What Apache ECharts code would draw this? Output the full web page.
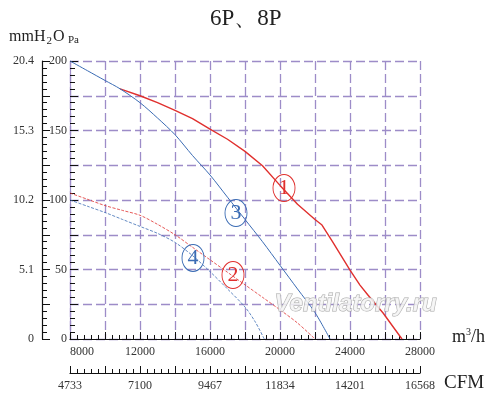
<!DOCTYPE html>
<html>
<head>
<meta charset="utf-8">
<script src="https://cdn.jsdelivr.net/npm/echarts@6/dist/echarts.min.js"></script>
<style>html,body{margin:0;padding:0;background:#fff}#c{width:500px;height:411px}</style>
</head>
<body>
<div id="c"></div>
<script>
// ---- data ----
const title = '6P、8P';
const curve1 = [[10860,180],[12000,175],[13000,170],[14000,164.5],[15000,158.5],[16000,151],[17000,143.7],[18000,135],[19000,124.6],[20000,110.5],[21000,97],[22000,86],[22400,82],[23000,70],[24000,49.6],[24570,38.8],[25000,32],[25890,18.7],[26450,9],[26970,0]];
const curve2 = [[8000,105],[9000,100.5],[10000,96],[11000,92.5],[12000,89],[13000,82.5],[14000,75],[15000,66],[16000,57],[17000,48],[18000,39],[19000,30],[20000,21],[21000,11.5],[22000,0]];
const curve3 = [[8000,200],[9000,193],[10000,186],[10860,180],[12000,170],[13000,159],[14000,147],[15000,132],[16000,118],[17000,102],[18000,86],[19000,70],[20000,53],[21000,36],[22000,19],[22860,0]];
const curve4 = [[8000,100],[9000,95.5],[10000,91],[11000,86],[12000,81],[13000,76],[14000,69.5],[15000,60],[16000,48.5],[17000,36],[18000,23],[18600,12],[19100,0]];
const curveNames = ['1','2','3','4'];
const labelCoords = [[20229,108.6],[17314,46],[17486,90.6],[15029,58.3]];
const xTickValues = [8000,12000,16000,20000,24000,28000];
const xTickLabels = ['8000','12000','16000','20000','24000','28000'];
const cfmTickLabels = ['4733','7100','9467','11834','14201','16568'];
const paTickValues = [0,50,100,150,200];
const paTickLabels = ['0','50','100','150','200'];
const mmTickLabels = ['0','5.1','10.2','15.3','20.4'];

const RED = '#e0302e', BLUE = '#3b6cb4', GRID = '#9d8cc8';
const SERIF = '"Liberation Serif","DejaVu Serif",serif';
const ellipse = 'path://M50,0 A50,50 0 1,1 49.99,0 Z';

function pick(vals, labs){
  return function(v){ const i = vals.indexOf(Math.round(v)); return i >= 0 ? labs[i] : ''; };
}

const chart = echarts.init(document.getElementById('c'), null, {renderer:'canvas'});

function xAx(offset, labels, split, alignMin){
  return {
    type:'value', min:8000, max:28000, interval:2000, position:'bottom', offset:offset,
    axisLine:{show:true, onZero:false, lineStyle:{color:'#111', width:1.2}},
    axisTick:{show:true, inside:true, length:7, lineStyle:{color:'#111', width:1}},
    minorTick:{show:true, splitNumber:5, length:4, lineStyle:{color:'#111', width:1}},
    splitLine:{show:split, lineStyle:{color:GRID, type:[9,4], width:1.3}},
    minorSplitLine:{show:false},
    axisLabel:{show:true, margin:7, color:'#333', fontFamily:SERIF, fontSize:12,
      showMinLabel:true, showMaxLabel:true, alignMinLabel:alignMin, formatter:pick(xTickValues, labels)}
  };
}
function yAx(offset, labels, split, lineColor, margin){
  return {
    type:'value', min:0, max:200, interval:25, position:'left', offset:offset,
    axisLine:{show:true, onZero:false, lineStyle:{color:lineColor, width:1.2}},
    axisTick:{show:true, inside:true, length:8, lineStyle:{color:'#111', width:1}},
    minorTick:{show:true, splitNumber:5, length:5, lineStyle:{color:'#111', width:1}},
    splitLine:{show:split, lineStyle:{color:GRID, type:[9,4], width:1.3}},
    axisLabel:{show:true, margin:margin, color:'#333', fontFamily:SERIF, fontSize:12,
      showMinLabel:true, showMaxLabel:true, formatter:pick(paTickValues, labels)}
  };
}

function mk(i, color){
  return {
    symbol: ellipse, symbolSize:[22,27], symbolKeepAspect:false,
    itemStyle:{color:'rgba(255,255,255,0)', borderColor:color, borderWidth:1},
    label:{show:true, position:'inside', formatter:curveNames[i], color:color, fontFamily:SERIF, fontSize:22},
    data:[{coord:labelCoords[i]}]
  };
}

const option = {
  animation:false,
  backgroundColor:'#fff',
  grid:{left:70, right:80, top:61, bottom:72, containLabel:false},
  xAxis:[ xAx(0, xTickLabels, true, 'left'), xAx(34, cfmTickLabels, false, 'center') ],
  yAxis:[ yAx(0, paTickLabels, true, GRID, 3), yAx(28, mmTickLabels, false, '#111', 8) ],
  series:[
    {name:'1', type:'line', data:curve1, smooth:false, symbol:'none', lineStyle:{color:RED, width:1.4}, markPoint:mk(0, RED), z:4},
    {name:'2', type:'line', data:curve2, smooth:0.3, symbol:'none', lineStyle:{color:RED, width:0.8, type:[3,1.5]}, markPoint:mk(1, RED), z:3},
    {name:'3', type:'line', data:curve3, smooth:0.3, symbol:'none', lineStyle:{color:BLUE, width:1}, markPoint:mk(2, BLUE), z:4},
    {name:'4', type:'line', data:curve4, smooth:0.3, symbol:'none', lineStyle:{color:BLUE, width:0.8, type:[3,1.5]}, markPoint:mk(3, BLUE), z:3}
  ],
  graphic:[
    {type:'text', left:210, top:7, style:{text:title, font:'23px '+SERIF, fill:'#222'}},
    {type:'text', left:9, top:29, style:{
      text:'{a|mmH}{s|2}{a|O}', fill:'#222',
      rich:{a:{fontFamily:SERIF, fontSize:16, color:'#222'}, s:{fontFamily:SERIF, fontSize:11, color:'#222', padding:[8,1,0,1]}}
    }},
    {type:'text', left:68, top:35, style:{text:'Pa', font:'11px '+SERIF, fill:'#222'}},
    {type:'text', left:452, top:327, style:{
      text:'{a|m}{s|3}{a|/h}', fill:'#222',
      rich:{a:{fontFamily:SERIF, fontSize:18, color:'#222'}, s:{fontFamily:SERIF, fontSize:10, color:'#222', padding:[0,0,10,0]}}
    }},
    {type:'text', left:444, top:374, style:{text:'CFM', font:'19px '+SERIF, fill:'#222'}},
    {type:'text', left:274, top:292, z:100, style:{text:'Ventilatorry.ru', font:'italic bold 24px "Liberation Sans",Arial,sans-serif',
      fill:'rgba(245,245,245,0.85)', stroke:'#a8a8a8', lineWidth:1}}
  ]
};
chart.setOption(option);
</script>
</body>
</html>
